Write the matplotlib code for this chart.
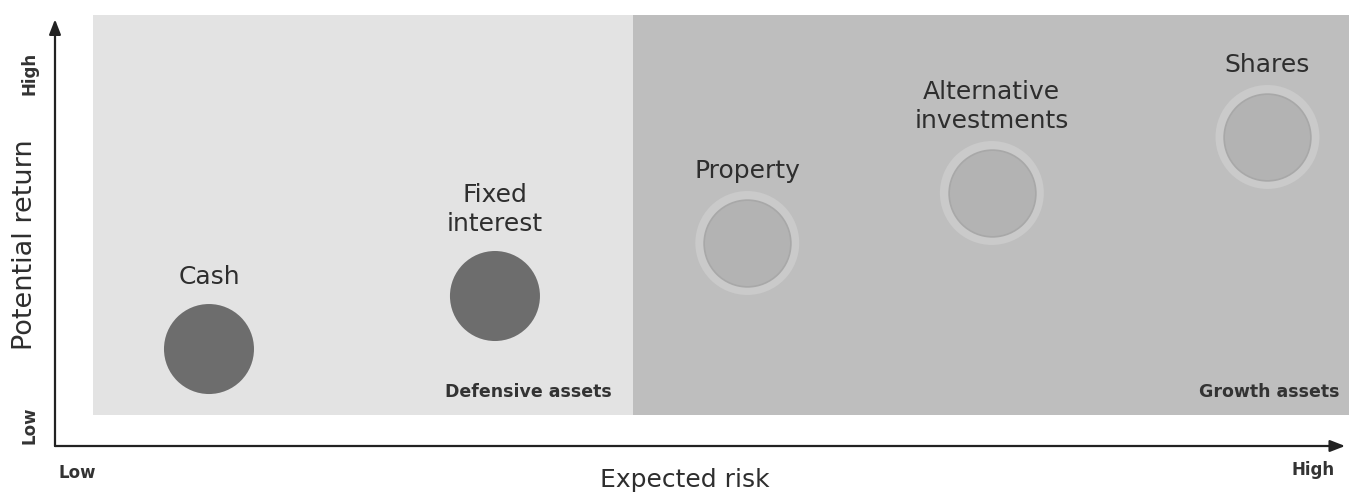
import matplotlib.pyplot as plt
from matplotlib.patches import Rectangle

# asset classes (risk / return on a 0-100 scale)
assets = ["Cash", "Fixed\ninterest", "Property", "Alternative\ninvestments", "Shares"]
risk = [11.9, 34.0, 53.5, 72.4, 93.7]
ret = [22.5, 34.8, 47.1, 58.7, 71.7]
growth = [False, False, True, True, True]

zone_names = ["Defensive assets", "Growth assets"]
zone_start = [2.9, 44.7]
zone_end = [44.7, 100.0]
zone_label_end = [43.0, 99.3]
zone_bottom = 7.2

fig = plt.figure(figsize=(13.49, 4.95), dpi=100)
ax = fig.add_axes([55 / 1349, 49 / 495, 1294 / 1349, 431 / 495])
ax.set_xlim(0, 100)
ax.set_ylim(0, 100)
ax.axis("off")

# background zones
zone_colors = ["#e3e3e3", "#bebebe"]
for x0, x1, xl, col, name in zip(zone_start, zone_end, zone_label_end, zone_colors, zone_names):
    ax.add_patch(Rectangle((x0, zone_bottom), x1 - x0, 100 - zone_bottom,
                           facecolor=col, edgecolor="none", zorder=0))
    ax.text(xl, zone_bottom + 5.3, name, ha="right", va="center",
            fontsize=12.5, fontweight="bold", color="#333333", zorder=3)

# asset bubbles
for name, x, y, g in zip(assets, risk, ret, growth):
    if g:
        ax.scatter([x], [y], s=5600, color="#cacaca", edgecolors="none", zorder=1)
        ax.scatter([x], [y], s=3900, color="#b3b3b3", edgecolors="#a8a8a8",
                   linewidths=1.2, zorder=2)
    else:
        ax.scatter([x], [y], s=4200, color="#6d6d6d", edgecolors="none", zorder=2)
    ax.annotate(name, (x, y), xytext=(0, 60), textcoords="offset pixels",
                ha="center", va="bottom", fontsize=18, color="#2e2e2e",
                linespacing=1.25, zorder=3)

# axes arrows
arrow = dict(arrowstyle="-|>,head_length=0.9,head_width=0.35", color="#222222",
             lw=1.6, shrinkA=0, shrinkB=0)
ax.annotate("", xy=(0.997, 0.0), xytext=(0, 0), xycoords="axes fraction",
            arrowprops=arrow, annotation_clip=False)
ax.annotate("", xy=(0, 0.99), xytext=(0, 0), xycoords="axes fraction",
            arrowprops=arrow, annotation_clip=False)

# axis labels
fig.text(685 / 1349, 1 - 480 / 495, "Expected risk", ha="center", va="center",
         fontsize=18, color="#2e2e2e")
fig.text(25 / 1349, 1 - 245 / 495, "Potential return", ha="center", va="center",
         rotation=90, fontsize=19.5, color="#2e2e2e")
fig.text(77 / 1349, 1 - 473 / 495, "Low", ha="center", va="center",
         fontsize=12, fontweight="bold", color="#333333")
fig.text(1313 / 1349, 1 - 470 / 495, "High", ha="center", va="center",
         fontsize=12, fontweight="bold", color="#333333")
fig.text(29 / 1349, 1 - 73 / 495, "High", ha="center", va="center",
         rotation=90, fontsize=12, fontweight="bold", color="#333333")
fig.text(29 / 1349, 1 - 425 / 495, "Low", ha="center", va="center",
         rotation=90, fontsize=12, fontweight="bold", color="#333333")

fig.savefig("out.png", dpi=100)
